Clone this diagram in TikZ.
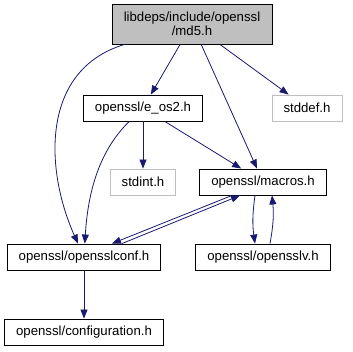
\documentclass[tikz,border=0pt]{standalone}
\usepackage{fontspec}
\setmainfont{Liberation Sans}
\usetikzlibrary{arrows.meta,calc}
\definecolor{Ink}{HTML}{000000}
\definecolor{EdgeBlue}{HTML}{191970}
\definecolor{RootGray}{HTML}{BFBFBF}
\definecolor{SysGray}{HTML}{BFBFBF}
\tikzset{
  incRoot/.style={rectangle,draw=Ink,fill=RootGray,line width=0.9pt,
    minimum width=160pt,minimum height=40pt,align=center,
    font=\fontsize{13.2}{14.5}\selectfont,inner sep=0pt},
  incFile/.style={rectangle,draw=Ink,fill=white,line width=0.9pt,
    minimum height=26pt,inner xsep=11.5pt,inner ysep=0pt,
    font=\fontsize{13.2}{15}\selectfont},
  incSys/.style={incFile,draw=SysGray},
  dep/.style={-{Triangle[length=9pt,width=7pt]},draw=EdgeBlue,line width=0.8pt}
}
\begin{document}
\begin{tikzpicture}[x=1pt,y=-1pt]
  \useasboundingbox (0,0) rectangle (353,351);
  \node[incRoot] (md5) at (192,24) {libdeps/include/openssl\\/md5.h};
  \node[incFile] (eos2) at (143,108) {openssl/e\_os2.h};
  \node[incSys] (stddef) at (307,108) {stddef.h};
  \node[incSys] (stdint) at (143,182) {stdint.h};
  \node[incFile] (macros) at (263,182) {openssl/macros.h};
  \node[incFile] (conf) at (84,257) {openssl/opensslconf.h};
  \node[incFile] (sslv) at (263,257) {openssl/opensslv.h};
  \node[incFile] (config) at (84,332) {openssl/configuration.h};
  % straight includes
  \foreach \a/\b in {md5/eos2,md5/stddef,md5/macros,eos2/stdint,eos2/macros,conf/config}{
    \draw[dep] (\a) -- (\b);
  }
  % curved includes down the left side
  \draw[dep] (md5) .. controls (40,70) and (45,170) .. (conf);
  \draw[dep] (eos2) .. controls (100,150) and (88,190) .. (conf);
  % mutual includes
  \draw[dep] ($(macros.south)+(-31,0)$) -- ($(conf.north)+(28,0)$);
  \draw[dep] ($(conf.north)+(38,0)$) -- ($(macros.south)+(-23,0)$);
  \draw[dep] ($(macros.south)+(-8,0)$) to[bend right=8] ($(sslv.north)+(-8,0)$);
  \draw[dep] ($(sslv.north)+(7,0)$) to[bend right=8] ($(macros.south)+(9,0)$);
\end{tikzpicture}
\end{document}
